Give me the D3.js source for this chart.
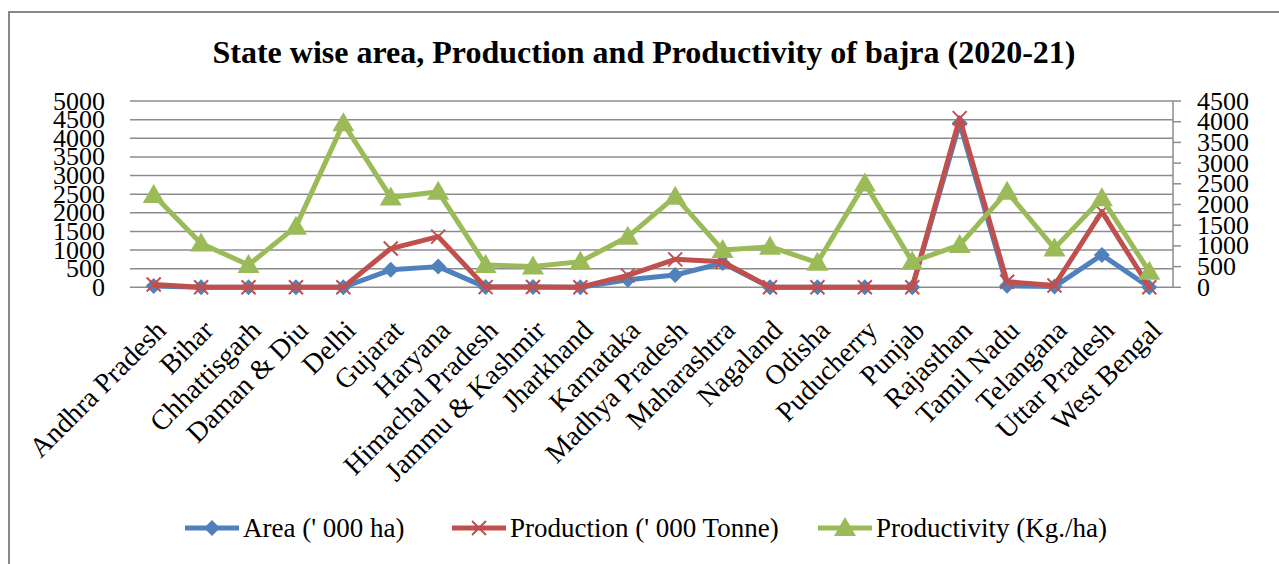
<!DOCTYPE html>
<meta charset="utf-8">
<script src="https://d3js.org/d3.v7.min.js"></script>
<style>
  body { margin: 0; background: white; }
  text { font-family: "Liberation Serif", "Times New Roman", serif; fill: #000; }
</style>
<div id="chart"></div>
<script>
  // chart data
  var states = ["Andhra Pradesh", "Bihar", "Chhattisgarh", "Daman & Diu", "Delhi", "Gujarat", "Haryana",
    "Himachal Pradesh", "Jammu & Kashmir", "Jharkhand", "Karnataka", "Madhya Pradesh", "Maharashtra",
    "Nagaland", "Odisha", "Puducherry", "Punjab", "Rajasthan", "Tamil Nadu", "Telangana", "Uttar Pradesh", "West Bengal"]
  var area = [35, 3, 2, 1, 2, 470, 555, 5, 10, 3, 200, 330, 650, 1, 2, 1, 2, 4400, 40, 20, 870, 2]
  var production = [75, 3, 2, 1, 2, 1040, 1360, 5, 8, 3, 320, 750, 685, 1, 2, 1, 2, 4540, 150, 50, 2030, 2]
  var productivity = [2230, 1060, 540, 1465, 3960, 2170, 2310, 540, 500, 620, 1220, 2190, 900, 980, 595, 2510, 620, 1020, 2310, 940, 2150, 377]
  var leftTicks = [0, 500, 1000, 1500, 2000, 2500, 3000, 3500, 4000, 4500, 5000]
  var rightTicks = [0, 500, 1000, 1500, 2000, 2500, 3000, 3500, 4000, 4500]

  var width = 1279, height = 564
  var plotL = 130, plotR = 1173, plotT = 101, plotB = 287.3

  var svg = d3.select("#chart").append("svg")
    .attr("width", width)
    .attr("height", height)

  // outer chart frame
  svg.append("rect")
    .attr("x", 9).attr("y", 12)
    .attr("width", 1290).attr("height", 580)
    .attr("fill", "none")
    .attr("stroke", "#888").attr("stroke-width", 2)

  svg.append("text")
    .attr("x", 644).attr("y", 63)
    .attr("text-anchor", "middle")
    .style("font-size", "32px").style("font-weight", "bold")
    .text("State wise area, Production and Productivity of bajra (2020-21)")

  var x = d3.scaleBand().domain(states).range([plotL, plotR])
  var yL = d3.scaleLinear().domain([0, 5000]).range([plotB, plotT])
  var yR = d3.scaleLinear().domain([0, 4500]).range([plotB, plotT])
  var cx = function(d) { return x(d) + x.bandwidth() / 2 }

  // gridlines
  svg.append("g").selectAll("line")
    .data(leftTicks).enter().append("line")
    .attr("x1", plotL).attr("x2", plotR)
    .attr("y1", function(d) { return yL(d) }).attr("y2", function(d) { return yL(d) })
    .attr("stroke", "#8c8c8c").attr("stroke-width", 1.5)

  // left labels
  svg.append("g").selectAll("text")
    .data(leftTicks).enter().append("text")
    .attr("x", 105).attr("y", function(d) { return yL(d) })
    .attr("dy", "0.33em")
    .attr("text-anchor", "end")
    .style("font-size", "26px")
    .text(function(d) { return d })

  // right axis
  svg.append("line")
    .attr("x1", plotR).attr("x2", plotR).attr("y1", plotT).attr("y2", plotB)
    .attr("stroke", "#8c8c8c").attr("stroke-width", 1.5)
  svg.append("g").selectAll("line")
    .data(rightTicks).enter().append("line")
    .attr("x1", plotR).attr("x2", plotR + 8)
    .attr("y1", function(d) { return yR(d) }).attr("y2", function(d) { return yR(d) })
    .attr("stroke", "#8c8c8c").attr("stroke-width", 1.5)
  svg.append("g").selectAll("text")
    .data(rightTicks).enter().append("text")
    .attr("x", 1197).attr("y", function(d) { return yR(d) })
    .attr("dy", "0.33em")
    .style("font-size", "26px")
    .text(function(d) { return d })

  // category labels, rotated
  svg.append("g").selectAll("text")
    .data(states).enter().append("text")
    .attr("text-anchor", "end")
    .attr("transform", function(d) { return "translate(" + (cx(d) + 14) + "," + 332 + ") rotate(-45)" })
    .style("font-size", "28px")
    .text(function(d) { return d })

  var series = [
    { name: "Area (' 000 ha)", values: area, y: yL, color: "#4f81bd", marker: "diamond" },
    { name: "Production (' 000 Tonne)", values: production, y: yL, color: "#c0504d", marker: "cross" },
    { name: "Productivity (Kg./ha)", values: productivity, y: yR, color: "#9bbb59", marker: "triangle" }
  ]

  function drawMarker(g, type, color) {
    if (type == "diamond") {
      g.append("path").attr("d", "M0,-8L8,0L0,8L-8,0Z").attr("fill", color)
    } else if (type == "triangle") {
      g.append("path").attr("d", "M0,-11L11,8L-11,8Z").attr("fill", color)
    } else {
      g.append("path").attr("d", "M-7,-7L7,7M-7,7L7,-7").attr("stroke", color).attr("stroke-width", 2)
    }
  }

  series.forEach(function(s) {
    var line = d3.line()
      .x(function(d, i) { return cx(states[i]) })
      .y(function(d) { return s.y(d) })
    svg.append("path")
      .datum(s.values)
      .attr("d", line)
      .attr("fill", "none")
      .attr("stroke", s.color)
      .attr("stroke-width", 5)
      .attr("stroke-linejoin", "round")
    s.values.forEach(function(v, i) {
      var g = svg.append("g").attr("transform", "translate(" + cx(states[i]) + "," + s.y(v) + ")")
      drawMarker(g, s.marker, s.color)
    })
  })

  // legend
  var legendX = [185, 452, 818]
  series.forEach(function(s, i) {
    var g = svg.append("g").attr("transform", "translate(" + legendX[i] + ",528)")
    g.append("line").attr("x1", 0).attr("x2", 54)
      .attr("stroke", s.color).attr("stroke-width", 5)
    var m = g.append("g").attr("transform", "translate(27,0)")
    drawMarker(m, s.marker, s.color)
    g.append("text").attr("x", 58).attr("dy", "0.33em")
      .style("font-size", "27px")
      .text(s.name)
  })
</script>
